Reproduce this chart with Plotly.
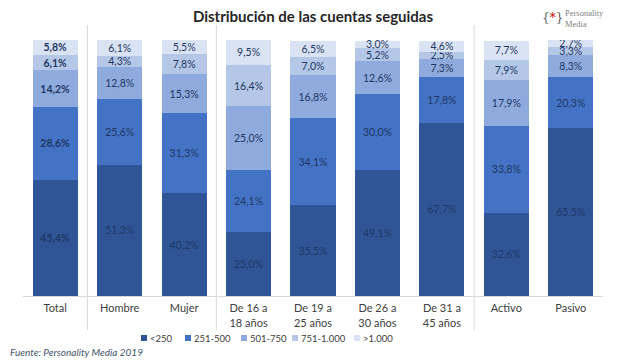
import plotly.graph_objects as go

categories = ["Total", "Hombre", "Mujer", "De 16 a<br>18 años", "De 19 a<br>25 años",
              "De 26 a<br>30 años", "De 31 a<br>45 años", "Activo", "Pasivo"]
series_names = ["<250", "251-500", "501-750", "751-1.000", ">1.000"]
v_lt250 = [45.4, 51.3, 40.2, 25.0, 35.5, 49.1, 67.7, 32.6, 65.5]
v_251_500 = [28.6, 25.6, 31.3, 24.1, 34.1, 30.0, 17.8, 33.8, 20.3]
v_501_750 = [14.2, 12.8, 15.3, 25.0, 16.8, 12.6, 7.3, 17.9, 8.3]
v_751_1000 = [6.1, 4.3, 7.8, 16.4, 7.0, 5.2, 2.5, 7.9, 3.3]
v_gt1000 = [5.8, 6.1, 5.5, 9.5, 6.5, 3.0, 4.6, 7.7, 2.7]
colors = ["#2F5597", "#4472C4", "#8FAADC", "#B4C7E7", "#DAE3F3"]

# page body has an 8px margin: figure drawn 8px smaller, screen coords offset by 8
OFF = 8
W, H = 626 - OFF, 364 - OFF
ml, mr, mt, mb = 15, 23, 32, 68
plot_w = W - ml - mr
plot_h = H - mt - mb
FONT = "Lato, Open Sans, sans-serif"


def fx(px):
    return (px - OFF - ml) / plot_w


def fy(py):
    return (H - mb - (py - OFF)) / plot_h


fig = go.Figure()
all_vals = [v_lt250, v_251_500, v_501_750, v_751_1000, v_gt1000]
for name, vals, col in zip(series_names, all_vals, colors):
    tmpl = ["<b>%{y:.1f}%</b>" if i == 0 else "%{y:.1f}%" for i in range(len(vals))]
    fig.add_trace(go.Bar(
        x=categories, y=vals, name=name,
        marker=dict(color=col, line=dict(width=0)),
        width=0.7,
        texttemplate=tmpl, textposition="inside", insidetextanchor="middle",
        textangle=0,
        textfont=dict(family=FONT, size=10.5, color="#1F3864"),
        showlegend=False,
    ))

shapes = []
for xs in [0.5, 2.5, 6.5]:
    shapes.append(dict(type="line", xref="x", yref="paper", x0=xs, x1=xs,
                       y0=fy(330), y1=fy(25), line=dict(color="#D9D9D9", width=1)))

annotations = [
    dict(text="<i>Fuente: Personality Media 2019</i>", xref="paper", yref="paper",
         x=fx(OFF), xanchor="left", y=fy(352), yanchor="middle", showarrow=False,
         font=dict(family=FONT, size=10, color="#44546A")),
    dict(text="{<span style='color:#C00000'>*</span>}", xref="paper", yref="paper",
         x=fx(552), xanchor="center", y=fy(18), yanchor="middle",
         showarrow=False, font=dict(family="DejaVu Serif", size=12, color="#595959")),
    dict(text="Personality<br>Media", xref="paper", yref="paper",
         x=fx(563), xanchor="left", y=fy(18), yanchor="middle",
         showarrow=False, align="left",
         font=dict(family="Liberation Serif", size=8.5, color="#7F7F7F")),
]

# legend (small square swatches + labels)
leg_x = [144, 188, 244, 295, 357]
leg_y = 338
for name, col, lx in zip(series_names, colors, leg_x):
    shapes.append(dict(type="rect", xref="paper", yref="paper",
                       x0=fx(lx - 3), x1=fx(lx + 3), y0=fy(leg_y + 3), y1=fy(leg_y - 3),
                       fillcolor=col, line=dict(width=0)))
    annotations.append(dict(text=name.replace("<", "&lt;").replace(">", "&gt;"),
                            xref="paper", yref="paper",
                            x=fx(lx + 4), xanchor="left", y=fy(leg_y), yanchor="middle",
                            showarrow=False,
                            font=dict(family=FONT, size=9.5, color="#404040")))

fig.update_layout(
    width=W, height=H,
    margin=dict(l=ml, r=mr, t=mt, b=mb, autoexpand=False),
    paper_bgcolor="white", plot_bgcolor="white",
    barmode="stack", bargap=0.3,
    separators=",.",
    uniformtext=dict(minsize=10.5, mode="show"),
    font=dict(family=FONT, color="#404040"),
    title=dict(text="<b>Distribución de las cuentas seguidas</b>", x=0.5, xanchor="center",
               xref="paper",
               y=1 - (17 - OFF) / H, yanchor="middle",
               font=dict(family=FONT, size=15, color="#262626")),
    xaxis=dict(showline=True, linecolor="#D9D9D9", linewidth=1, ticks="",
               tickfont=dict(family=FONT, size=11, color="#404040"), showgrid=False,
               automargin=False, ticklabelstandoff=2),
    yaxis=dict(range=[0, 100.1], visible=False, showgrid=False),
    showlegend=False,
    shapes=shapes,
    annotations=annotations,
)

fig.write_html("out.html")
